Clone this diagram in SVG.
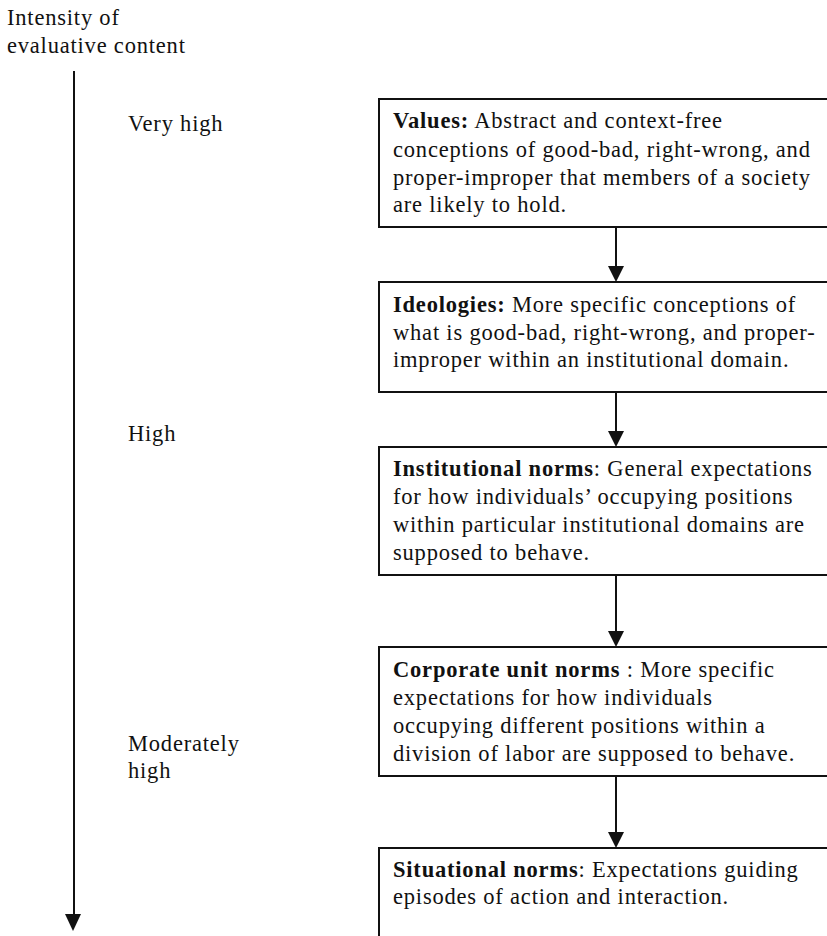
<svg xmlns="http://www.w3.org/2000/svg" width="827" height="936" viewBox="0 0 827 936">
  <style>
    text { font-family: "Liberation Serif", "Times New Roman", serif; font-size: 22.5px; letter-spacing: 0.8px; fill: #111; }
    .b { font-weight: bold; }
    .box { fill: none; stroke: #111; stroke-width: 2; }
    .conn { stroke: #111; stroke-width: 2; fill: none; }
    .head { fill: #111; }
  </style>

  <!-- vertical scale -->
  <g id="axis">
    <text x="7" y="25">Intensity of</text>
    <text x="7" y="53">evaluative content</text>
    <line x1="74" y1="71" x2="74" y2="916" class="conn"/>
    <path class="head" d="M65,914 L81,914 L73,931 Z"/>
    <text x="128" y="131">Very high</text>
    <text x="128" y="441">High</text>
    <text x="128" y="751">Moderately</text>
    <text x="128" y="778">high</text>
  </g>

  <!-- boxes, open on the right side -->
  <g id="values">
    <path class="box" d="M827,99 H379 V227 H827"/>
    <text x="393" y="128"><tspan class="b">Values:</tspan> Abstract and context-free</text>
    <text x="393" y="157">conceptions of good-bad, right-wrong, and</text>
    <text x="393" y="185">proper-improper that members of a society</text>
    <text x="393" y="212">are likely to hold.</text>
  </g>

  <g id="ideologies">
    <path class="box" d="M827,282 H379 V392 H827"/>
    <text x="393" y="312"><tspan class="b">Ideologies:</tspan> More specific conceptions of</text>
    <text x="393" y="340">what is good-bad, right-wrong, and proper-</text>
    <text x="393" y="367">improper within an institutional domain.</text>
  </g>

  <g id="institutional">
    <path class="box" d="M827,447 H379 V575 H827"/>
    <text x="393" y="476"><tspan class="b">Institutional norms</tspan>: General expectations</text>
    <text x="393" y="504">for how individuals’ occupying positions</text>
    <text x="393" y="532">within particular institutional domains are</text>
    <text x="393" y="560">supposed to behave.</text>
  </g>

  <g id="corporate">
    <path class="box" d="M827,647 H379 V776 H827"/>
    <text x="393" y="677"><tspan class="b">Corporate unit norms</tspan> : More specific</text>
    <text x="393" y="705">expectations for how individuals</text>
    <text x="393" y="733">occupying different positions within a</text>
    <text x="393" y="761">division of labor are supposed to behave.</text>
  </g>

  <g id="situational">
    <path class="box" d="M827,848 H379 V936"/>
    <text x="393" y="877"><tspan class="b">Situational norms</tspan>: Expectations guiding</text>
    <text x="393" y="904">episodes of action and interaction.</text>
  </g>

  <!-- connectors between levels -->
  <g id="connectors">
    <line class="conn" x1="616" y1="227" x2="616" y2="268"/>
    <path class="head" d="M608,266 L624,266 L616,282 Z"/>
    <line class="conn" x1="616" y1="392" x2="616" y2="433"/>
    <path class="head" d="M608,431 L624,431 L616,447 Z"/>
    <line class="conn" x1="616" y1="575" x2="616" y2="633"/>
    <path class="head" d="M608,631 L624,631 L616,647 Z"/>
    <line class="conn" x1="616" y1="776" x2="616" y2="834"/>
    <path class="head" d="M608,832 L624,832 L616,848 Z"/>
  </g>
</svg>
